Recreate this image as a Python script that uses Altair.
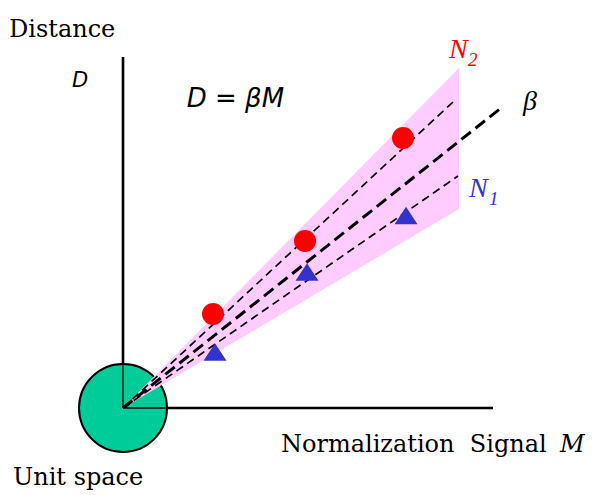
import altair as alt
import pandas as pd

# ---- data (diagram units: 1 unit = 10 px) ----
red_M = [9.0, 18.2, 28.0]
red_D = [9.4, 16.7, 27.0]
blue_M = [9.2, 18.4, 28.3]
blue_D = [5.6, 13.6, 19.25]

thin_names = ["N2", "N1"]
thin_end_M = [33.0, 33.5]
thin_end_D = [30.6, 23.2]
beta_end_M = [37.8]
beta_end_D = [30.0]

wedge_M = [0.0, 33.6]
wedge_top = [0.0, 34.0]
wedge_bottom = [0.0, 19.9]

unit_M = [0.0]
unit_D = [0.0]
unit_r = 4.4
axis_y_top = 35.1
axis_x_end = 37.0

X_DOM = [-11.5, 46.4]
Y_DOM = [-8.7, 40.0]

xs = alt.Scale(domain=X_DOM, nice=False, zero=False)
ys = alt.Scale(domain=Y_DOM, nice=False, zero=False)

def X(f="M"):
    return alt.X(f + ":Q", scale=xs, axis=None)

def Y(f="D"):
    return alt.Y(f + ":Q", scale=ys, axis=None)

# unit space circle
circle = alt.Chart(pd.DataFrame({"M": unit_M, "D": unit_D})).mark_point(
    shape="circle", filled=True, fill="#00CC99", stroke="#000000",
    strokeWidth=2, size=88 * 88, opacity=1
).encode(x=X(), y=Y())

# pink wedge
wedge = alt.Chart(pd.DataFrame({"M": wedge_M, "top": wedge_top, "bot": wedge_bottom})).mark_area(
    color="#FFCCFF", opacity=1
).encode(x=X(), y=Y("top"), y2="bot:Q")

# thin axis segments inside circle
inner_v = alt.Chart(pd.DataFrame({"M": [0.0], "a": [0.0], "b": [unit_r]})).mark_rule(
    color="black", strokeWidth=1.3).encode(x=X(), y=Y("a"), y2="b:Q")
inner_h = alt.Chart(pd.DataFrame({"D": [0.0], "a": [0.0], "b": [unit_r]})).mark_rule(
    color="black", strokeWidth=1.3).encode(y=Y(), x=X("a"), x2="b:Q")

# thick axes
axis_v = alt.Chart(pd.DataFrame({"M": [0.0], "a": [unit_r], "b": [axis_y_top]})).mark_rule(
    color="black", strokeWidth=2.6).encode(x=X(), y=Y("a"), y2="b:Q")
axis_h = alt.Chart(pd.DataFrame({"D": [0.0], "a": [unit_r], "b": [axis_x_end]})).mark_rule(
    color="black", strokeWidth=2.6).encode(y=Y(), x=X("a"), x2="b:Q")

# dashed lines from origin
rows = []
for n, m, d in zip(thin_names, thin_end_M, thin_end_D):
    rows.append({"name": n, "M": 0.0, "D": 0.0})
    rows.append({"name": n, "M": m, "D": d})
thin = alt.Chart(pd.DataFrame(rows)).mark_line(
    color="black", strokeWidth=1.7, strokeDash=[8, 5]
).encode(x=X(), y=Y(), detail="name:N")

beta_rows = [{"M": 0.0, "D": 0.0}, {"M": beta_end_M[0], "D": beta_end_D[0]}]
beta = alt.Chart(pd.DataFrame(beta_rows)).mark_line(
    color="black", strokeWidth=3, strokeDash=[12, 6]
).encode(x=X(), y=Y())

# points
red = alt.Chart(pd.DataFrame({"M": red_M, "D": red_D})).mark_point(
    shape="circle", filled=True, color="#FF0000", size=484, opacity=1
).encode(x=X(), y=Y())
blue = alt.Chart(pd.DataFrame({"M": blue_M, "D": blue_D})).mark_point(
    shape="M0,-0.76L1,0.76L-1,0.76Z", filled=True, color="#3333CC", size=529, opacity=1
).encode(x=X(), y=Y())

# texts
def txt(t, m, d, font, size, color="black", style="normal"):
    return alt.Chart(pd.DataFrame({"M": [m], "D": [d], "t": [t]})).mark_text(
        align="left", baseline="alphabetic", font=font, fontSize=size,
        fontStyle=style, color=color
    ).encode(x=X(), y=Y(), text="t:N")

SERIF = "DejaVu Serif"
TIMES = "Liberation Serif"
SANS = "DejaVu Sans"

texts = [
    txt("Distance", -11.4, 37.1, SERIF, 24),
    txt("D", -5.1, 32.07, SANS, 21, style="italic"),
    txt("D = βM", 6.37, 30.07, SANS, 26, style="italic"),
    txt("N", 32.6, 35.0, TIMES, 28, color="#FF0000", style="italic"),
    txt("2", 34.5, 34.2, TIMES, 19, color="#FF0000", style="italic"),
    txt("β", 40.0, 29.8, TIMES, 28, style="italic"),
    txt("N", 34.6, 21.1, TIMES, 28, color="#3333CC", style="italic"),
    txt("1", 36.6, 20.3, TIMES, 19, color="#3333CC", style="italic"),
    txt("Normalization\u00a0 Signal", 15.8, -4.4, SERIF, 24),
    txt("M", 43.7, -4.4, SERIF, 24, style="italic"),
    txt("Unit space", -11.0, -7.7, SERIF, 24),
]

chart = alt.layer(
    circle, wedge, inner_v, inner_h, thin, beta, red, blue, axis_v, axis_h, *texts
).properties(width=579, height=487, padding=0, autosize="none").configure_view(strokeWidth=0)

chart.save("out.html", embed_options={"renderer": "svg", "actions": False})
